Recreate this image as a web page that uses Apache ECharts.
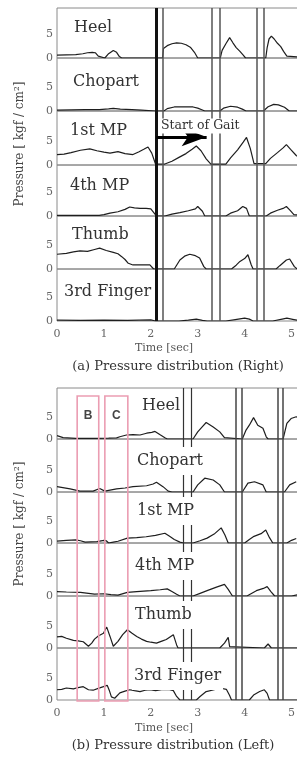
<!DOCTYPE html>
<html>
<head>
<meta charset="utf-8">
<script src="https://cdn.jsdelivr.net/npm/echarts@6/dist/echarts.min.js"></script>
<style>
  html, body { margin: 0; padding: 0; background: #fff; }
  #chart { width: 297px; height: 758px; }
</style>
</head>
<body>
<div id="chart"></div>
<script>
// ---- data: [time sec, pressure kgf/cm2] ----
const panelNames = ["Heel", "Chopart", "1st MP", "4th MP", "Thumb", "3rd Finger"];
const timeTicks = [0, 1, 2, 3, 4, 5];
const pressureTicks = [0, 5];

// (a) right foot
const rightHeel = [[0,0.6],[0.2,0.65],[0.4,0.7],[0.55,0.9],[0.65,1.1],[0.75,1.2],[0.82,1.1],[0.88,0.4],[0.92,0],[1.02,0],[1.1,0.9],[1.2,1.6],[1.27,1.2],[1.33,0.3],[1.38,0],[2.25,0],[2.27,2.0],[2.35,2.6],[2.45,3.0],[2.55,3.2],[2.65,3.1],[2.75,2.8],[2.85,2.2],[2.93,1.2],[3.0,0],[3.48,0],[3.52,1.6],[3.6,3.0],[3.68,4.3],[3.75,3.2],[3.82,2.2],[3.9,1.4],[3.97,0.6],[4.02,0],[4.45,0],[4.48,2.2],[4.52,4.0],[4.57,4.6],[4.63,4.0],[4.7,3.1],[4.77,2.4],[4.83,1.4],[4.9,0.4],[4.93,0],[5.5,0]];
const rightChopart = [[0,0.2],[0.3,0.25],[0.6,0.3],[0.9,0.3],[1.1,0.45],[1.2,0.55],[1.35,0.4],[1.6,0.3],[1.8,0.2],[2.1,0],[2.28,0],[2.35,0.5],[2.5,0.85],[2.7,0.9],[2.9,0.85],[3.0,0.6],[3.1,0.2],[3.15,0],[3.47,0],[3.55,0.6],[3.7,1.0],[3.85,0.8],[3.95,0.4],[4.03,0],[4.4,0],[4.5,0.9],[4.62,1.4],[4.72,1.3],[4.85,0.8],[4.95,0],[5.5,0]];
const right1stMP = [[0,2.2],[0.15,2.3],[0.3,2.6],[0.5,3.1],[0.7,3.4],[0.85,3.0],[1.0,2.7],[1.13,2.5],[1.3,2.8],[1.45,2.4],[1.62,2.2],[1.75,2.8],[1.85,3.3],[1.94,3.8],[2.02,2.5],[2.1,0.2],[2.3,0.2],[2.45,0.8],[2.6,1.6],[2.75,2.4],[2.88,3.3],[2.97,4.0],[3.07,3.0],[3.18,1.3],[3.28,0.2],[3.6,0.2],[3.7,1.5],[3.85,3.2],[3.97,4.8],[4.04,5.8],[4.12,3.5],[4.2,0.3],[4.45,0.3],[4.55,1.4],[4.7,2.6],[4.82,3.6],[4.89,4.3],[4.98,3.3],[5.1,2.0],[5.3,0.5],[5.5,0]];
const right4thMP = [[0,0.15],[0.5,0.15],[0.9,0.15],[1.0,0.3],[1.13,0.6],[1.3,0.9],[1.45,1.4],[1.55,1.9],[1.65,1.7],[1.77,1.6],[1.9,1.6],[2.0,1.5],[2.08,0.5],[2.12,0],[2.3,0],[2.45,0.4],[2.62,0.7],[2.8,1.1],[2.95,1.5],[3.0,2.0],[3.1,1.0],[3.15,0],[3.6,0],[3.7,0.6],[3.85,1.1],[3.96,2.0],[4.04,1.6],[4.1,0],[4.46,0],[4.55,0.6],[4.7,1.2],[4.82,1.6],[4.89,2.0],[4.97,1.2],[5.05,0.3],[5.5,0]];
const rightThumb = [[0,3.1],[0.2,3.3],[0.35,3.6],[0.49,3.8],[0.65,3.7],[0.8,4.1],[0.91,4.4],[1.05,3.9],[1.2,3.5],[1.3,3.2],[1.38,2.6],[1.45,2.0],[1.52,1.2],[1.62,0.85],[1.8,0.85],[1.98,0.85],[2.06,0],[2.5,0],[2.55,0.8],[2.62,1.9],[2.72,2.7],[2.83,3.1],[2.95,2.8],[3.04,2.3],[3.13,0.5],[3.18,0],[3.72,0],[3.82,0.8],[3.9,1.6],[4.0,2.2],[4.07,3.0],[4.14,0.9],[4.18,0],[4.67,0],[4.75,0.7],[4.89,1.9],[4.96,2.1],[5.06,0.5],[5.12,0],[5.5,0]];
const right3rdFinger = [[0,0.2],[0.5,0.15],[1.0,0.2],[1.5,0.15],[2.0,0.25],[2.1,0],[2.6,0],[2.8,0.2],[2.97,0.4],[3.1,0.15],[3.2,0],[3.6,0],[3.8,0.3],[4.0,0.6],[4.1,0.4],[4.18,0],[4.6,0],[4.8,0.4],[4.9,0.6],[5.05,0.3],[5.2,0],[5.5,0]];

// (b) left foot
const leftHeel = [[0,0.75],[0.13,0.3],[0.4,0.15],[0.8,0.15],[1.1,0.2],[1.27,0.25],[1.34,0.5],[1.48,0.9],[1.62,1.0],[1.77,0.9],[1.91,1.3],[2.02,1.5],[2.09,1.7],[2.19,1.0],[2.3,0.3],[2.35,0],[2.9,0],[3.0,1.6],[3.1,2.8],[3.18,3.7],[3.33,2.7],[3.47,1.6],[3.57,0.3],[3.6,0],[3.95,0],[4.03,2.0],[4.1,3.1],[4.19,4.8],[4.28,3.1],[4.39,2.4],[4.46,0.5],[4.5,0],[4.82,0],[4.9,3.5],[4.99,4.6],[5.1,5.0],[5.2,4.5]];
const leftChopart = [[0,1.2],[0.28,0.7],[0.49,0.2],[0.77,0.2],[0.91,0.8],[1.02,0.2],[1.27,0.7],[1.45,0.9],[1.62,1.2],[1.91,1.4],[2.05,1.8],[2.12,2.2],[2.26,1.2],[2.37,0.2],[2.45,0],[2.9,0],[3.0,1.6],[3.15,3.1],[3.33,2.7],[3.47,1.6],[3.57,0],[3.95,0],[4.07,2.0],[4.21,2.3],[4.39,1.6],[4.46,0],[4.85,0],[4.96,1.6],[5.1,2.3]];
const left1stMP = [[0,0.4],[0.2,0.6],[0.4,0.7],[0.5,0.5],[0.6,0.2],[0.85,0.3],[1.0,0.6],[1.05,0.5],[1.1,0],[1.2,0.2],[1.3,0.4],[1.5,1.1],[1.7,1.2],[1.9,1.4],[2.1,1.7],[2.3,2.2],[2.4,1.5],[2.5,0.8],[2.62,0.2],[2.7,0],[2.9,0],[3.05,0.5],[3.2,1.1],[3.35,2.0],[3.5,3.4],[3.58,1.8],[3.65,0],[4.0,0],[4.1,0.8],[4.2,1.5],[4.35,2.1],[4.45,2.9],[4.53,1.2],[4.6,0],[4.9,0],[5.0,0.6],[5.1,1.0]];
const left4thMP = [[0,1.0],[0.2,0.9],[0.5,0.8],[0.8,0.4],[1.0,0.5],[1.15,0.3],[1.3,0.2],[1.5,0.8],[1.7,1.0],[2.0,1.2],[2.2,1.4],[2.35,1.6],[2.45,1.0],[2.55,0.4],[2.62,0],[2.9,0],[3.05,0.6],[3.2,1.2],[3.4,2.0],[3.57,2.6],[3.65,1.5],[3.74,0],[4.05,0],[4.25,1.2],[4.4,1.7],[4.48,2.1],[4.56,1.0],[4.64,0],[5.0,0],[5.2,0.4]];
const leftThumb = [[0,2.5],[0.1,2.6],[0.2,2.2],[0.35,1.7],[0.45,1.6],[0.56,1.4],[0.67,0.4],[0.74,1.1],[0.8,2.0],[0.88,2.7],[0.99,3.3],[1.06,4.7],[1.13,2.6],[1.2,0.4],[1.3,1.5],[1.4,3.0],[1.5,4.1],[1.6,3.3],[1.7,2.6],[1.8,2.0],[1.91,1.5],[2.0,1.3],[2.12,1.1],[2.25,1.6],[2.33,1.9],[2.48,3.0],[2.55,0.7],[2.58,0],[3.47,0],[3.57,1.1],[3.65,2.4],[3.68,0.3],[3.7,0],[4.42,0],[4.5,0.9],[4.57,0],[5.5,0]];
const left3rdFinger = [[0,2.3],[0.1,2.4],[0.2,2.7],[0.35,2.5],[0.45,2.8],[0.56,3.0],[0.67,2.3],[0.77,2.2],[0.88,2.6],[0.99,3.0],[1.07,3.3],[1.12,2.0],[1.16,0.7],[1.23,0.4],[1.34,1.6],[1.45,2.0],[1.55,2.3],[1.65,2.1],[1.77,1.9],[1.88,2.2],[1.98,2.3],[2.1,2.1],[2.26,2.4],[2.4,2.3],[2.48,2.1],[2.55,0.8],[2.62,0],[2.97,0],[3.05,0.8],[3.18,1.9],[3.35,2.3],[3.47,2.7],[3.61,2.4],[3.68,1.0],[3.72,0],[4.1,0],[4.2,1.2],[4.32,1.9],[4.42,2.3],[4.48,1.5],[4.53,0],[5.5,0]];

// gait event lines [sec]
const rightStartLine = 2.12;
const rightGaitLines = [2.25, 3.30, 3.47, 4.25, 4.41];
const leftShortLines = [2.69, 2.87];
const leftGaitLines = [3.81, 3.93, 4.71, 4.82];
const boxB = [0.43, 0.89];
const boxC = [1.02, 1.51];
const arrowEnd = 3.19;

const rightSeries = [rightHeel, rightChopart, right1stMP, right4thMP, rightThumb, right3rdFinger];
const leftSeries = [leftHeel, leftChopart, left1stMP, left4thMP, leftThumb, left3rdFinger];

// ---- layout ----
const FONT = '"DejaVu Serif", "Liberation Serif", serif';
const rightEdges = [8, 58, 111, 165, 216, 269, 321];
const leftEdges = [388, 439, 492, 543, 596, 648, 700];
const rightUnit = 4.75; // px per kgf/cm2
const leftUnit = 4.45;

const chart = echarts.init(document.getElementById("chart"));

const grids = [];
const xAxes = [];
const yAxes = [];
const series = [];

function addSide(edges, unit, dataList, lines) {
  for (let i = 0; i < 6; i++) {
    const idx = grids.length;
    const h = edges[i + 1] - edges[i];
    grids.push({
      left: 57, width: 258, top: edges[i], height: h,
      outerBoundsMode: "none", containLabel: false,
      show: true, borderColor: "#8a8a8a", borderWidth: 1,
    });
    xAxes.push({
      gridIndex: idx, type: "value", min: 0, max: 5.5, interval: 1,
      axisLine: { show: false }, axisTick: { show: false }, splitLine: { show: false },
      axisLabel: {
        show: i === 5, color: "#666", fontSize: 11, fontFamily: FONT, margin: 8,
        formatter: (v) => (timeTicks.includes(v) ? String(v) : ""),
      },
    });
    yAxes.push({
      gridIndex: idx, type: "value", min: 0, max: h / unit, interval: 5,
      axisLine: { show: false }, axisTick: { show: false }, splitLine: { show: false },
      axisLabel: {
        color: "#666", fontSize: 11, fontFamily: FONT, margin: 4,
        formatter: (v) => (pressureTicks.includes(v) ? String(v) : ""),
      },
    });
    series.push({
      type: "line", xAxisIndex: idx, yAxisIndex: idx,
      data: dataList[i], showSymbol: false, silent: true, z: 3,
      lineStyle: { color: "#1e1e1e", width: 1.2 },
      markLine: {
        silent: true, symbol: "none", label: { show: false }, animation: false,
        data: lines,
      },
    });
  }
}

const rightLines = [{ xAxis: rightStartLine, lineStyle: { color: "#111", width: 3, type: "solid" } }]
  .concat(rightGaitLines.map((v) => ({ xAxis: v, lineStyle: { color: "#555", width: 1.5, type: "solid" } })));
const leftLines = leftShortLines.map((v) => ({ xAxis: v, lineStyle: { color: "#333", width: 1.2, type: "solid" } }))
  .concat(leftGaitLines.map((v) => ({ xAxis: v, lineStyle: { color: "#444", width: 1.5, type: "solid" } })));

addSide(rightEdges, rightUnit, rightSeries, rightLines);
addSide(leftEdges, leftUnit, leftSeries, leftLines);

// "Start of Gait" arrow on the 1st MP (right) panel
series.push({
  type: "line", xAxisIndex: 2, yAxisIndex: 2, data: [], silent: true,
  markLine: {
    silent: true, animation: false, label: { show: false },
    lineStyle: { color: "#000", width: 3, type: "solid" },
    data: [[
      { coord: [rightStartLine, 5.9], symbol: "none" },
      { coord: [arrowEnd, 5.9], symbol: "arrow", symbolSize: [14, 25] },
    ]],
  },
});

chart.setOption({
  animation: false,
  textStyle: { fontFamily: FONT },
  grid: grids, xAxis: xAxes, yAxis: yAxes, series: series,
});

// ---- texts and boxes ----
const graphic = [];
function label(text, x, y, size, opts) {
  graphic.push(Object.assign({
    type: "text", x: x, y: y, z: 50, silent: true,
    style: Object.assign({
      text: text, font: size + "px " + FONT, fill: "#333",
      textVerticalAlign: "middle",
    }, opts || {}),
  }));
}

const rightLabelPos = [[72, 28], [71, 82], [68, 131], [68, 186], [70, 235], [62, 292]];
const leftLabelPos = [[140, 406], [135, 461], [135, 511], [133, 566], [133, 615], [132, 676]];
panelNames.forEach((n, i) => {
  label(n, rightLabelPos[i][0], rightLabelPos[i][1], 16, { backgroundColor: "#fff", padding: [2, 2, 2, 2] });
  label(n, leftLabelPos[i][0], leftLabelPos[i][1], 16, { backgroundColor: "#fff", padding: [8, 2, 4, 2] });
});
label("Start of Gait", 160, 126, 12.5, { backgroundColor: "#fff", padding: [1, 1, 1, 1] });

[[20, 144], [20, 524]].forEach((p) => {
  graphic.push({
    type: "text", x: p[0], y: p[1], rotation: Math.PI / 2, z: 50, silent: true,
    style: { text: "Pressure [ kgf / cm\u00b2]", font: "12px " + FONT, fill: "#444", textAlign: "center", textVerticalAlign: "middle" },
  });
});
label("Time [sec]", 164, 348, 11, { textAlign: "center", fill: "#555" });
label("Time [sec]", 164, 728, 11, { textAlign: "center", fill: "#555" });
label("(a) Pressure distribution (Right)", 178, 367, 13, { textAlign: "center" });
label("(b) Pressure distribution (Left)", 173, 746, 13, { textAlign: "center" });

const boxTop = (leftEdges[1] - 396) / leftUnit;
const boxLabelY = (leftEdges[1] - 416) / leftUnit;
[[boxB, "B"], [boxC, "C"]].forEach(([range, name]) => {
  const tl = chart.convertToPixel({ xAxisIndex: 6, yAxisIndex: 6 }, [range[0], boxTop]);
  const br = chart.convertToPixel({ xAxisIndex: 11, yAxisIndex: 11 }, [range[1], 0]);
  const mid = chart.convertToPixel({ xAxisIndex: 6, yAxisIndex: 6 }, [(range[0] + range[1]) / 2, boxLabelY]);
  graphic.push({
    type: "rect", z: 10, silent: true,
    shape: { x: tl[0], y: tl[1], width: br[0] - tl[0], height: br[1] - tl[1] + 1 },
    style: { fill: "none", stroke: "#eb9db2", lineWidth: 1.6 },
  });
  label(name, mid[0], mid[1], 12, { textAlign: "center", fill: "#444", fontWeight: "bold" });
});

chart.setOption({ graphic: graphic });
</script>
</body>
</html>
